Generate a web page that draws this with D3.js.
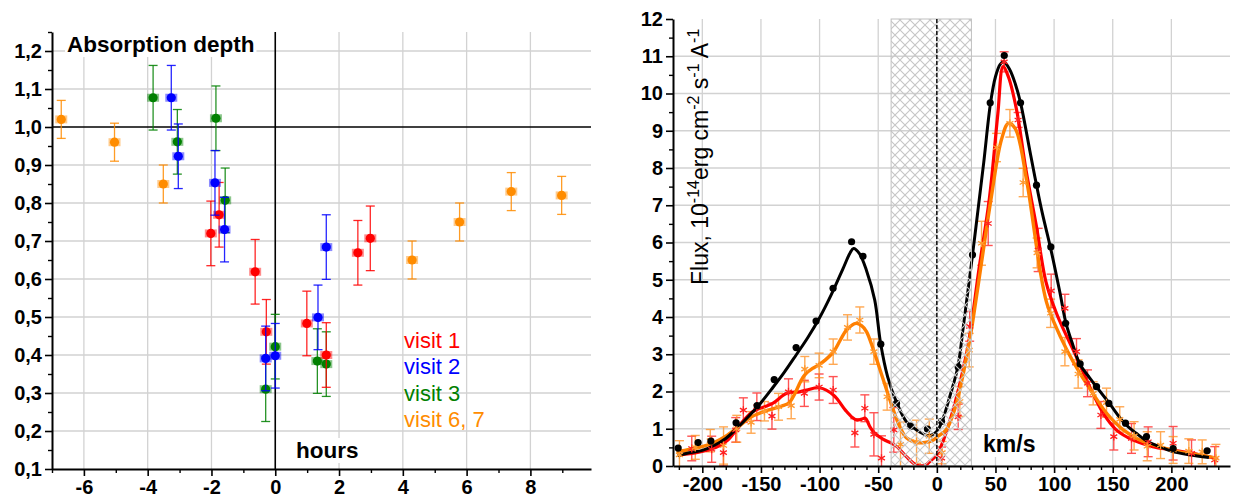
<!DOCTYPE html>
<html>
<head>
<meta charset="utf-8">
<script src="https://cdn.jsdelivr.net/npm/d3@7"></script>
<style>
  body { margin: 0; background: #fff; }
  text { font-family: "Liberation Sans", Arial, sans-serif; }
</style>
</head>
<body>
<svg id="chart" width="1234" height="501"></svg>
<script>

// ---- left panel: absorption depth vs hours  [hours, depth, error]
var visit1 = [[-2.02,0.720,0.085],[-1.76,0.769,0.085],[-0.63,0.619,0.085],[-0.28,0.461,0.085],
              [0.99,0.483,0.085],[1.60,0.400,0.085],[2.59,0.669,0.085],[2.98,0.707,0.085]];
var visit2 = [[-3.26,1.077,0.085],[-3.04,0.923,0.085],[-1.89,0.853,0.085],[-1.59,0.730,0.085],
              [-0.30,0.391,0.085],[0.00,0.398,0.085],[1.34,0.499,0.085],[1.60,0.684,0.085]];
var visit3 = [[-3.83,1.077,0.085],[-3.07,0.961,0.085],[-1.86,1.023,0.085],[-1.57,0.807,0.085],
              [-0.30,0.310,0.085],[0.00,0.422,0.085],[1.32,0.384,0.085],[1.60,0.376,0.085]];
var visit67 = [[-6.71,1.02,0.05],[-5.04,0.96,0.05],[-3.51,0.85,0.05],[4.29,0.65,0.05],
               [5.78,0.75,0.05],[7.40,0.83,0.05],[8.98,0.82,0.05]];
var legendLabels = ["visit 1", "visit 2", "visit 3", "visit 6, 7"];
var hourTicks = [-6, -4, -2, 0, 2, 4, 6, 8];
var depthTicks = [0.1, 0.2, 0.3, 0.4, 0.5, 0.6, 0.7, 0.8, 0.9, 1.0, 1.1, 1.2];

// ---- right panel: line profile  [km/s, flux, error]
var blackPoints = [[-220.6,0.48],[-203.6,0.63],[-192.7,0.67],[-171.2,1.16],[-153.3,1.62],[-138.7,2.32],
  [-120,3.18],[-103,3.89],[-88.5,4.77],[-72.7,6.02],[-63,5.63],[-47.8,3.27],[-34.4,1.68],[-22.3,1.07],
  [-8,0.99],[4,1.20],[18.2,2.66],[30.4,5.67],[45.5,9.75],[57.5,11.02],[71.4,9.75],[85,7.54],[97.2,5.88],
  [109.8,3.83],[122.2,2.74],[136.2,2.13],[146.7,1.68],[160.9,1.15],[178.8,0.79],[201.5,0.47],[230.5,0.41]];
var blackFit = [[-221,0.28],[-210,0.36],[-200,0.42],[-190,0.55],[-180,0.74],[-170,1.03],[-160,1.35],
  [-150,1.70],[-140,2.10],[-130,2.52],[-120,2.98],[-110,3.45],[-100,3.98],[-90,4.60],[-80,5.30],[-74,5.72],
  [-71,5.84],[-66,5.70],[-60,5.25],[-53,4.46],[-48,3.30],[-42,2.40],[-34,1.68],[-26,1.19],[-20,1.03],
  [-15,0.92],[-8,0.82],[-3,0.85],[1,0.97],[5,1.25],[11,1.86],[18,2.67],[22.4,3.70],[30.4,5.66],[35,6.85],
  [40,8.15],[45.8,9.75],[50,10.45],[54,10.78],[57,10.85],[62,10.65],[67,10.25],[71.4,9.75],[80,8.35],
  [85,7.54],[90,6.78],[97,5.85],[105,4.65],[110,3.85],[116,3.25],[122,2.73],[130,2.38],[136,2.13],
  [146.7,1.70],[160,1.15],[170,0.88],[180,0.65],[190,0.52],[200,0.40],[215,0.30],[232,0.23]];

var redPoints = [[-209,0.47,0.33],[-192,0.45,0.35],[-182,0.36,0.36],[-171.5,0.97,0.33],[-165,1.50,0.33],
  [-153.5,1.59,0.37],[-140.6,1.34,0.35],[-126.5,1.99,0.35],[-113,1.95,0.35],[-100.4,2.12,0.35],
  [-88.4,2.04,0.36],[-69.9,0.89,0.38],[-61.4,1.55,0.36],[-53.7,0.85,0.58],[-47.2,0.21,0.6],
  [-36.7,0.97,0.6],[4,0.21,0.3],[18.2,1.32,0.34],[28,3.75,0.4],[43.8,6.51,0.59],[57.4,10.85,0.27],
  [69.3,9.29,0.2],[86.4,5.80,0.58],[97.5,4.7,0.45],[109.2,4.23,0.38],[119.1,3.07,0.35],[128.5,2.22,0.36],
  [139.9,1.37,0.36],[150.9,0.79,0.36],[166,0.74,0.4],[180.2,0.65,0.4],[201.5,0.61,0.45],[217.2,0.34,0.36],
  [237,0.16,0.36]];
var redFit = [[-219,0.30],[-205,0.36],[-195,0.43],[-185,0.55],[-178,0.70],[-171,0.97],[-164,1.25],
  [-157,1.46],[-148,1.58],[-140,1.68],[-128,1.95],[-117,1.99],[-111,2.04],[-100,2.10],[-88,1.90],
  [-78,1.50],[-72,1.30],[-68,1.23],[-64,1.26],[-61,1.28],[-57,1.05],[-53,0.88],[-46,0.72],[-38,0.60],
  [-34,0.52],[-26,0.25],[-17,0.02],[-10,0.02],[-6,0.12],[0,0.30],[4,0.56],[12,1.30],[19,2.13],[27,3.30],
  [36,5.30],[45,7.23],[52,9.45],[56.5,10.72],[61,10.45],[68,9.56],[76,7.95],[85,6.42],[93,4.95],
  [102,4.10],[109,3.60],[119,2.93],[130,2.15],[142,1.41],[153,0.97],[167,0.70],[184,0.52],[201,0.43],
  [218,0.34],[237,0.21]];

var orangePoints = [[-219.5,0.30,0.38],[-206,0.50,0.32],[-193.2,0.68,0.30],[-181.9,0.55,0.5],
  [-170.6,1.00,0.36],[-158.4,1.17,0.29],[-147,1.47,0.26],[-135,1.59,0.36],[-124.2,1.62,0.35],
  [-112.6,2.60,0.34],[-100.4,2.70,0.33],[-88.4,3.07,0.34],[-76.2,3.72,0.34],[-65.7,3.92,0.35],
  [-53.7,3.07,0.34],[-42.4,1.86,0.36],[-31,0.58,0.6],[-17.3,0.65,0.58],[-6.5,0.80,0.46],[4.5,0.36,0.3],
  [19.6,1.73,0.4],[27.6,3.11,0.45],[38.1,5.98,0.59],[50.9,8.55,0.38],[62.3,9.20,0.37],[73.6,7.61,0.38],
  [85.5,5.72,0.40],[97,4.10,0.38],[109.2,3.07,0.38],[120.5,2.47,0.38],[133.3,1.95,0.31],[144.7,1.70,0.39],
  [156,1.25,0.34],[168.2,0.81,0.38],[179.4,0.53,0.39],[190.8,0.56,0.36],[201.5,0.43,0.36],
  [214.9,0.40,0.33],[226.3,0.38,0.32],[238,0.21,0.37]];
var orangeFit = [[-222,0.38],[-210,0.45],[-198,0.54],[-190,0.63],[-180,0.80],[-169,1.06],[-158,1.32],
  [-144,1.50],[-132,1.61],[-126,1.70],[-121,1.95],[-116,2.28],[-112,2.47],[-106,2.62],[-101,2.71],
  [-95,2.85],[-88,3.07],[-82,3.40],[-77,3.65],[-69,3.83],[-64,3.76],[-60,3.61],[-54,3.11],[-46,2.35],
  [-40,1.77],[-34,1.23],[-30,0.95],[-26,0.76],[-17,0.63],[-10,0.63],[-3,0.70],[1,0.80],[8,0.97],
  [15,1.50],[22,2.40],[27,3.20],[30,3.75],[38,5.44],[46.5,7.23],[55,8.75],[61,9.20],[67,9.05],
  [76.5,7.68],[85,5.89],[88,5.26],[93.5,4.40],[100,3.85],[111,3.11],[122,2.49],[133,1.95],[145,1.41],
  [159,0.97],[173,0.70],[190,0.52],[207,0.38],[224,0.30],[238,0.21]];

var masked = [-39, 29.5];
var velTicks = [-200, -150, -100, -50, 0, 50, 100, 150, 200];
var fluxTicks = [0, 1, 2, 3, 4, 5, 6, 7, 8, 9, 10, 11, 12];

var svg = d3.select("#chart");
var gridColor = "#d2d2d2";

function labelBg(sel) {
  var b = sel.node().getBBox();
  d3.select(sel.node().parentNode).insert("rect", function() { return sel.node(); })
    .attr("x", b.x - 2).attr("y", b.y).attr("width", b.width + 4).attr("height", b.height)
    .attr("fill", "#fff");
}

function styleAxis(g) {
  g.select(".domain").attr("stroke-width", 2);
  g.selectAll(".tick line").attr("stroke-width", 1.6);
  g.selectAll("text").attr("font-size", 20).attr("font-weight", "bold").attr("fill", "#000");
}

// ================= LEFT PANEL =================
var xL = d3.scaleLinear().domain([-7, 9.9]).range([52, 591]);
var yL = d3.scaleLinear().domain([0.1, 1.25]).range([469, 32]);
var left = svg.append("g");

left.selectAll(".vg").data(hourTicks.filter(function(d) { return d !== 0; })).enter().append("line")
  .attr("x1", xL).attr("x2", xL).attr("y1", yL(1.25)).attr("y2", yL(0.1))
  .attr("stroke", gridColor).attr("stroke-width", 1.3);
left.selectAll(".hg").data(depthTicks.filter(function(d) { return d > 0.1 && d !== 1.0; })).enter().append("line")
  .attr("x1", xL(-7)).attr("x2", xL(9.9)).attr("y1", yL).attr("y2", yL)
  .attr("stroke", gridColor).attr("stroke-width", 1.3);

left.append("line").attr("x1", xL(-7)).attr("x2", xL(9.9)).attr("y1", yL(1.0)).attr("y2", yL(1.0))
  .attr("stroke", "#000").attr("stroke-width", 1.4);
left.append("line").attr("x1", xL(0)).attr("x2", xL(0)).attr("y1", yL(1.25)).attr("y2", yL(0.1))
  .attr("stroke", "#000").attr("stroke-width", 1.6);

function drawVisit(data, color) {
  var g = left.append("g");
  data.forEach(function(d) {
    var x = xL(d[0]);
    g.append("line").attr("x1", x).attr("x2", x).attr("y1", yL(d[1] - d[2])).attr("y2", yL(d[1] + d[2]))
      .attr("stroke", color).attr("stroke-width", 1.3).attr("opacity", 0.85);
    [d[1] - d[2], d[1] + d[2]].forEach(function(v) {
      g.append("line").attr("x1", x - 4.5).attr("x2", x + 4.5).attr("y1", yL(v)).attr("y2", yL(v))
        .attr("stroke", color).attr("stroke-width", 1.3).attr("opacity", 0.85);
    });
    g.append("rect").attr("x", x - 6).attr("y", yL(d[1]) - 4).attr("width", 12).attr("height", 8)
      .attr("fill", color).attr("opacity", 0.45);
    g.append("circle").attr("cx", x).attr("cy", yL(d[1])).attr("r", 4.6).attr("fill", color);
  });
}
drawVisit(visit67, "#ff8c00");
drawVisit(visit3, "#008000");
drawVisit(visit1, "#ff0000");
drawVisit(visit2, "#0000ff");

var fmtHour = function(d) { return String(d); };
var gxL = left.append("g").attr("transform", "translate(0," + yL(0.1) + ")")
  .call(d3.axisBottom(xL).tickValues(hourTicks).tickSize(7).tickSizeOuter(0).tickPadding(4).tickFormat(fmtHour));
styleAxis(gxL);
left.append("g").attr("transform", "translate(0," + yL(0.1) + ")")
  .call(d3.axisBottom(xL).tickValues([-7, -5, -3, -1, 1, 3, 5, 7, 9]).tickSize(4).tickFormat(""))
  .call(function(g) { g.select(".domain").remove(); g.selectAll("line").attr("stroke-width", 1.4); });

var gyL = left.append("g").attr("transform", "translate(" + xL(-7) + ",0)")
  .call(d3.axisLeft(yL).tickValues(depthTicks).tickSize(7).tickSizeOuter(0).tickPadding(3)
    .tickFormat(function(d) { return d3.format(".1f")(d).replace(".", ","); }));
styleAxis(gyL);
left.append("g").attr("transform", "translate(" + xL(-7) + ",0)")
  .call(d3.axisLeft(yL).tickValues(d3.range(0.15, 1.3, 0.1)).tickSize(4).tickFormat(""))
  .call(function(g) { g.select(".domain").remove(); g.selectAll("line").attr("stroke-width", 1.4); });

var tAbs = left.append("text").attr("x", 67).attr("y", 52).attr("font-size", 22.5).attr("font-weight", "bold")
  .text("Absorption depth");
labelBg(tAbs);
var tHours = left.append("text").attr("x", 296).attr("y", 458).attr("font-size", 22.5).attr("font-weight", "bold")
  .text("hours");
labelBg(tHours);

var legendColors = ["#ff0000", "#0000ff", "#008000", "#ff8c00"];
left.selectAll(".leg").data(legendLabels).enter().append("text")
  .attr("x", 404).attr("y", function(d, i) { return 348 + i * 26.3; })
  .attr("font-size", 22).attr("fill", function(d, i) { return legendColors[i]; })
  .text(function(d) { return d; });

// ================= RIGHT PANEL =================
var xR = d3.scaleLinear().domain([-225, 250]).range([673, 1230]);
var yR = d3.scaleLinear().domain([0, 12]).range([466, 19]);
var right = svg.append("g");

svg.append("defs").append("clipPath").attr("id", "clipR").append("rect")
  .attr("x", xR(-225)).attr("y", yR(12)).attr("width", xR(250) - xR(-225)).attr("height", yR(0) - yR(12));

right.selectAll(".vg").data(velTicks).enter().append("line")
  .attr("x1", xR).attr("x2", xR).attr("y1", yR(12)).attr("y2", yR(0))
  .attr("stroke", gridColor).attr("stroke-width", 1.3);
right.selectAll(".hg").data(fluxTicks.filter(function(d) { return d > 0 && d < 12; })).enter().append("line")
  .attr("x1", xR(-225)).attr("x2", xR(250)).attr("y1", yR).attr("y2", yR)
  .attr("stroke", gridColor).attr("stroke-width", 1.3);

var plot = right.append("g").attr("clip-path", "url(#clipR)");

function drawErr(data, color) {
  var g = plot.append("g").attr("stroke", color).attr("stroke-width", 1.4).attr("opacity", 0.75);
  data.forEach(function(d) {
    var x = xR(d[0]);
    g.append("line").attr("x1", x).attr("x2", x).attr("y1", yR(Math.max(0, d[1] - d[2]))).attr("y2", yR(d[1] + d[2]));
    [d[1] - d[2], d[1] + d[2]].forEach(function(v) {
      if (v < 0) return;
      g.append("line").attr("x1", x - 4.5).attr("x2", x + 4.5).attr("y1", yR(v)).attr("y2", yR(v));
    });
  });
}
function asterisk(r) {
  var a = r * Math.cos(Math.PI / 6), b = r * Math.sin(Math.PI / 6);
  return "M0," + (-r) + "L0," + r + "M" + (-a) + "," + (-b) + "L" + a + "," + b + "M" + (-a) + "," + b + "L" + a + "," + (-b);
}
function drawStars(data, color) {
  plot.append("g").selectAll("path").data(data).enter().append("path")
    .attr("transform", function(d) { return "translate(" + xR(d[0]) + "," + yR(d[1]) + ")"; })
    .attr("d", asterisk(4)).attr("stroke", color).attr("stroke-width", 1.3).attr("fill", "none");
}

drawErr(redPoints, "#ff1a1a");
drawErr(orangePoints, "#ff8c1a");

var line = d3.line().x(function(d) { return xR(d[0]); }).y(function(d) { return yR(d[1]); })
  .curve(d3.curveCatmullRom.alpha(0.5));
plot.append("path").datum(redFit).attr("d", line).attr("fill", "none").attr("stroke", "#ff0000").attr("stroke-width", 3.2);
plot.append("path").datum(orangeFit).attr("d", line).attr("fill", "none").attr("stroke", "#ff7f00").attr("stroke-width", 3.4);
plot.append("path").datum(blackFit).attr("d", line).attr("fill", "none").attr("stroke", "#000").attr("stroke-width", 3);

drawStars(redPoints, "#ff2020");
drawStars(orangePoints, "#ff9a30");
plot.append("g").selectAll("circle").data(blackPoints).enter().append("circle")
  .attr("cx", function(d) { return xR(d[0]); }).attr("cy", function(d) { return yR(d[1]); })
  .attr("r", 3.6).attr("fill", "#000");

// hatched region
var pat = svg.select("defs").append("pattern").attr("id", "hatch").attr("patternUnits", "userSpaceOnUse")
  .attr("width", 10).attr("height", 10);
pat.append("path").attr("d", "M0,0L10,10M10,0L0,10")
  .attr("stroke", "#c6c6c6").attr("stroke-width", 1.1);
right.append("rect").attr("x", xR(masked[0])).attr("y", yR(12))
  .attr("width", xR(masked[1]) - xR(masked[0])).attr("height", yR(0) - yR(12))
  .attr("fill", "url(#hatch)").attr("stroke", "#c0c0c0").attr("stroke-width", 1);

right.append("line").attr("x1", xR(0)).attr("x2", xR(0)).attr("y1", yR(12)).attr("y2", yR(0))
  .attr("stroke", "#000").attr("stroke-width", 1.4).attr("stroke-dasharray", "4,2");

var gxR = right.append("g").attr("transform", "translate(0," + yR(0) + ")")
  .call(d3.axisBottom(xR).tickValues(velTicks).tickSize(7).tickSizeOuter(0).tickPadding(4).tickFormat(fmtHour));
styleAxis(gxR);
right.append("g").attr("transform", "translate(0," + yR(0) + ")")
  .call(d3.axisBottom(xR).tickValues(d3.range(-220, 250, 10).filter(function(d) { return d % 50 !== 0; }))
    .tickSize(4).tickFormat(""))
  .call(function(g) { g.select(".domain").remove(); g.selectAll("line").attr("stroke-width", 1.4); });

var gyR = right.append("g").attr("transform", "translate(" + xR(-225) + ",0)")
  .call(d3.axisLeft(yR).tickValues(fluxTicks).tickSize(7).tickSizeOuter(0).tickPadding(3));
styleAxis(gyR);
right.append("g").attr("transform", "translate(" + xR(-225) + ",0)")
  .call(d3.axisLeft(yR).tickValues(d3.range(0.5, 12, 1)).tickSize(4).tickFormat(""))
  .call(function(g) { g.select(".domain").remove(); g.selectAll("line").attr("stroke-width", 1.4); });

var tKm = right.append("text").attr("x", 983).attr("y", 452).attr("font-size", 23).attr("font-weight", "bold")
  .text("km/s");
labelBg(tKm);

var yLab = right.append("text").attr("transform", "translate(708,285) rotate(-90)").attr("font-size", 23);
yLab.append("tspan").text("Flux, 10");
yLab.append("tspan").attr("font-size", 16).attr("dy", -9).text("-14");
yLab.append("tspan").attr("dy", 9).text("erg cm");
yLab.append("tspan").attr("font-size", 16).attr("dy", -9).text("-2");
yLab.append("tspan").attr("dy", 9).text(" s");
yLab.append("tspan").attr("font-size", 16).attr("dy", -9).text("-1");
yLab.append("tspan").attr("dy", 9).text(" A");
yLab.append("tspan").attr("font-size", 16).attr("dy", -9).text("-1");
labelBg(yLab);
</script>
</body>
</html>
